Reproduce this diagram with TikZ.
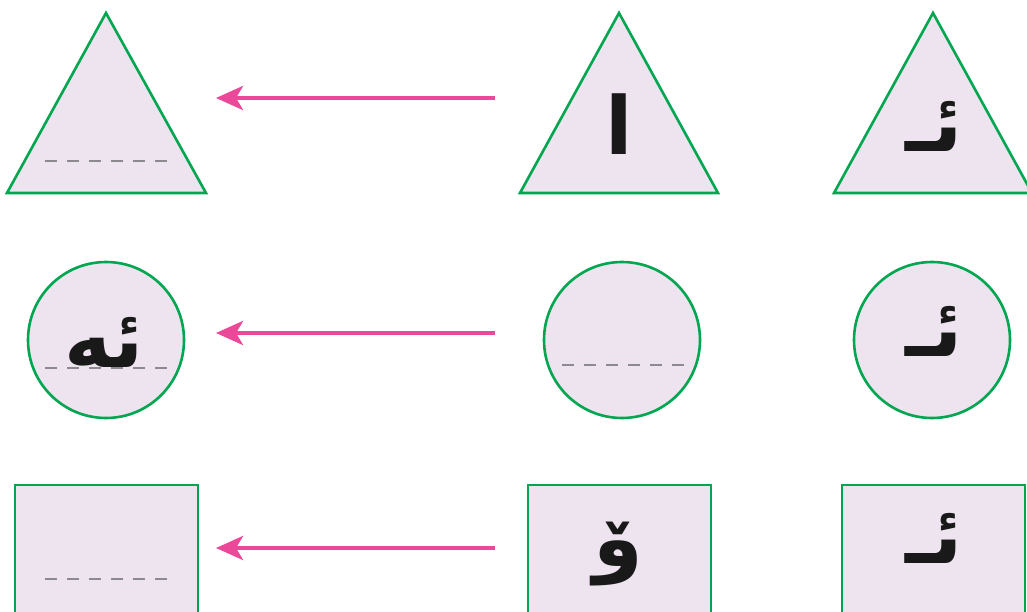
\documentclass[tikz,border=0pt]{standalone}
\usepackage{fontspec}
\TeXXeTstate=1
\newfontfamily\arabicfont[Script=Arabic]{DejaVu Sans}
\usetikzlibrary{arrows.meta}
\definecolor{shapefill}{HTML}{EEE4EF}
\definecolor{shapeline}{HTML}{00A650}
\definecolor{arrowpink}{HTML}{EC4899}
\definecolor{dashgray}{HTML}{8C8A8E}
\tikzset{
  shapebox/.style={fill=shapefill, draw=shapeline, line width=2.6pt, line join=miter},
  pinkarrow/.style={draw=arrowpink, line width=4.5pt, -{Stealth[length=27pt,width=24pt,inset=7pt]}},
  dashline/.style={draw=dashgray, line width=2.6pt, dash pattern=on 12pt off 10pt},
  letter/.style={font=\arabicfont\bfseries\fontsize{80}{90}\selectfont, text=black!90, inner sep=0pt, anchor=base}
}
\begin{document}
\begin{tikzpicture}[x=1pt,y=-1pt]
\useasboundingbox (0,0) rectangle (1027,612);
% triangles
\draw[shapebox] (106,13) -- (206,193) -- (7,193) -- cycle;
\draw[shapebox] (619,13) -- (718,193) -- (520,193) -- cycle;
\draw[shapebox] (933,13) -- (1032,193) -- (834,193) -- cycle;
% circles
\draw[shapebox] (106,340) circle[radius=78];
\draw[shapebox] (622,340) circle[radius=78];
\draw[shapebox] (932,340) circle[radius=78];
% rectangles
\draw[shapebox] (15,485) rectangle (198,620);
\draw[shapebox] (528,485) rectangle (711,620);
\draw[shapebox] (842,485) rectangle (1025,620);
% letters
\node[letter] (t2) at (619,155) {\beginR ا\endR};
\node[letter] (t3) at (934,152) {\beginR ئـ\endR};
\node[letter] (c1) at (104,367) {\beginR ئه\endR};
\node[letter] (c3) at (934,356) {\beginR ئـ\endR};
\node[letter] (r2) at (618,566) {\beginR ۆ\endR};
\node[letter] (r3) at (934,563) {\beginR ئـ\endR};
% dashed answer lines
\draw[dashline] (45,161) -- (167,161);
\draw[dashline] (45,368) -- (167,368);
\draw[dashline] (562,365) -- (684,365);
\draw[dashline] (45,579) -- (167,579);
% arrows
\coordinate (a1s) at (495,98);  \coordinate (a1e) at (216,98);
\coordinate (a2s) at (495,333); \coordinate (a2e) at (216,333);
\coordinate (a3s) at (495,548); \coordinate (a3e) at (216,548);
\draw[pinkarrow] (a1s) -- (a1e);
\draw[pinkarrow] (a2s) -- (a2e);
\draw[pinkarrow] (a3s) -- (a3e);
\end{tikzpicture}
\end{document}
